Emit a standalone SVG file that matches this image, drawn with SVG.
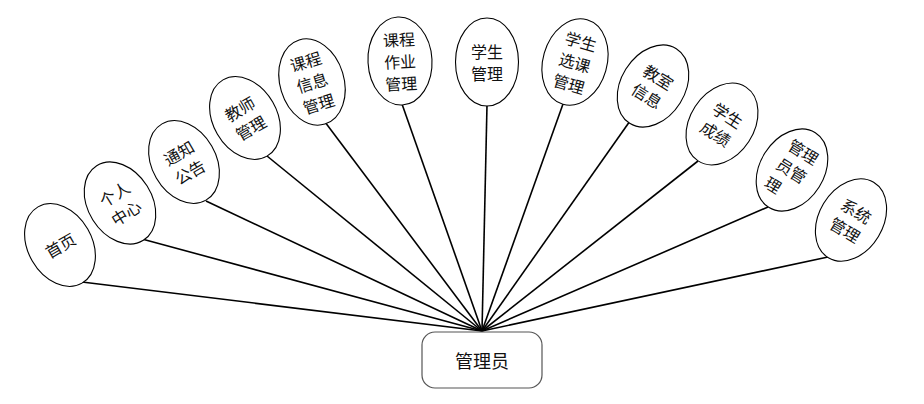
<svg xmlns="http://www.w3.org/2000/svg" width="924" height="404" viewBox="0 0 924 404">
<style>
.bg{fill:#fff}
.conn line{stroke:#000;stroke-width:1.6}
.node ellipse{fill:#fff;stroke:#000;stroke-width:1.1}
.node text{font-family:"Noto Sans CJK SC","Noto Sans",sans-serif;font-size:16px;fill:#111;dominant-baseline:central}
.hub rect{fill:#fff;stroke:#555;stroke-width:1.2}
.hub text{font-family:"Noto Sans CJK SC","Noto Sans",sans-serif;font-size:18px;fill:#111;text-anchor:middle;dominant-baseline:central}
</style>
<rect class="bg" x="0" y="0" width="924" height="404"/>
<g id="connectors" class="conn">
<line x1="82" y1="282" x2="482" y2="331"/>
<line x1="142" y1="239" x2="482" y2="331"/>
<line x1="206" y1="201" x2="482" y2="331"/>
<line x1="267" y1="156" x2="482" y2="331"/>
<line x1="325" y1="122" x2="482" y2="331"/>
<line x1="402" y1="104" x2="482" y2="331"/>
<line x1="487" y1="105" x2="482" y2="331"/>
<line x1="563" y1="104" x2="482" y2="331"/>
<line x1="630" y1="121" x2="482" y2="331"/>
<line x1="698" y1="161" x2="482" y2="331"/>
<line x1="768" y1="207" x2="482" y2="331"/>
<line x1="828" y1="257" x2="482" y2="331"/>
</g>
<g id="n1" class="node" transform="translate(60,245) rotate(-30)">
<ellipse cx="0" cy="0" rx="32" ry="44"/>
<text x="-16" y="0">首页</text>
</g>
<g id="n2" class="node" transform="translate(120,203) rotate(-32)">
<ellipse cx="0" cy="0" rx="32" ry="44"/>
<text x="-16" y="-11">个人</text>
<text x="-16" y="11">中心</text>
</g>
<g id="n3" class="node" transform="translate(184,162) rotate(-30)">
<ellipse cx="0" cy="0" rx="32" ry="44"/>
<text x="-16" y="-11">通知</text>
<text x="-16" y="11">公告</text>
</g>
<g id="n4" class="node" transform="translate(245,118) rotate(-30)">
<ellipse cx="0" cy="0" rx="32" ry="44"/>
<text x="-16" y="-11">教师</text>
<text x="-16" y="11">管理</text>
</g>
<g id="n5" class="node" transform="translate(312,82) rotate(-17)">
<ellipse cx="0" cy="0" rx="32" ry="44"/>
<text x="-16" y="-22">课程</text>
<text x="-16" y="0">信息</text>
<text x="-16" y="22">管理</text>
</g>
<g id="n6" class="node" transform="translate(400,61) rotate(-3)">
<ellipse cx="0" cy="0" rx="32" ry="44"/>
<text x="-16" y="-22">课程</text>
<text x="-16" y="0">作业</text>
<text x="-16" y="22">管理</text>
</g>
<g id="n7" class="node" transform="translate(487,62)">
<ellipse cx="0" cy="0" rx="31.5" ry="44"/>
<text x="-16" y="-11">学生</text>
<text x="-16" y="11">管理</text>
</g>
<g id="n8" class="node" transform="translate(575,62) rotate(16)">
<ellipse cx="0" cy="0" rx="32" ry="44"/>
<text x="-16" y="-22">学生</text>
<text x="-16" y="0">选课</text>
<text x="-16" y="22">管理</text>
</g>
<g id="n9" class="node" transform="translate(653,86) rotate(32)">
<ellipse cx="0" cy="0" rx="32" ry="44"/>
<text x="-16" y="-11">教室</text>
<text x="-16" y="11">信息</text>
</g>
<g id="n10" class="node" transform="translate(722,124) rotate(33)">
<ellipse cx="0" cy="0" rx="32" ry="44"/>
<text x="-16" y="-11">学生</text>
<text x="-16" y="11">成绩</text>
</g>
<g id="n11" class="node" transform="translate(792,170) rotate(32)">
<ellipse cx="0" cy="0" rx="32" ry="44"/>
<text x="-16" y="-22">管理</text>
<text x="-16" y="0">员管</text>
<text x="-16" y="22">理</text>
</g>
<g id="n12" class="node" transform="translate(851,220) rotate(31)">
<ellipse cx="0" cy="0" rx="32" ry="44"/>
<text x="-16" y="-11">系统</text>
<text x="-16" y="11">管理</text>
</g>
<g id="hub" class="hub">
<rect x="422" y="332" width="120" height="56" rx="13" ry="13"/>
<text x="482" y="360">管理员</text>
</g>
</svg>
